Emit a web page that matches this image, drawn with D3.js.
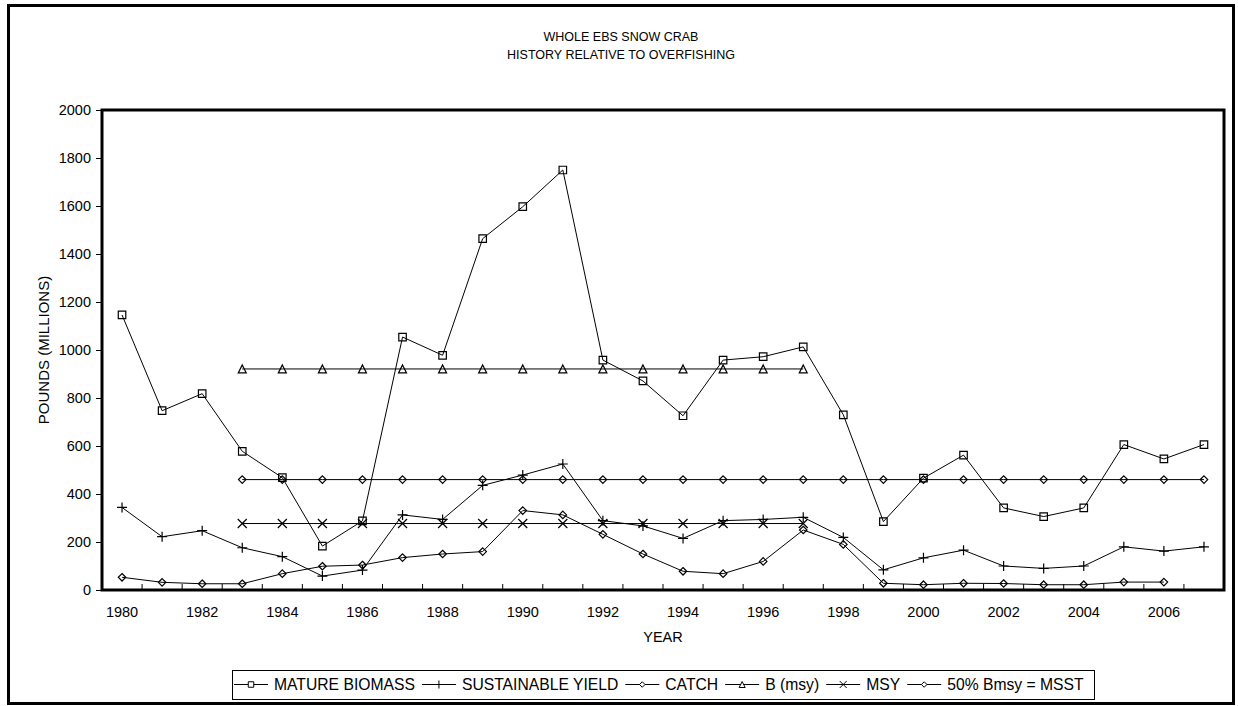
<!DOCTYPE html>
<html>
<head>
<meta charset="utf-8">
<script src="https://cdn.jsdelivr.net/npm/d3@7"></script>
<style>
  html, body { margin: 0; padding: 0; background: #fff; }
  svg { display: block; font-family: "Liberation Sans", Arial, sans-serif; }
</style>
</head>
<body>
<svg id="chart" width="1238" height="706"></svg>
<script>
// ---------------- DATA ----------------
const titleLines = ["WHOLE EBS SNOW CRAB", "HISTORY RELATIVE TO OVERFISHING"];
const yAxisTitle = "POUNDS (MILLIONS)";
const xAxisTitle = "YEAR";

const years = [1980, 1981, 1982, 1983, 1984, 1985, 1986, 1987, 1988, 1989,
               1990, 1991, 1992, 1993, 1994, 1995, 1996, 1997, 1998, 1999,
               2000, 2001, 2002, 2003, 2004, 2005, 2006, 2007];
const xTickLabels = [1980, 1982, 1984, 1986, 1988, 1990, 1992, 1994, 1996, 1998,
                     2000, 2002, 2004, 2006];
const yTicks = [0, 200, 400, 600, 800, 1000, 1200, 1400, 1600, 1800, 2000];

const matureBiomass = [1146, 747, 818, 578, 468, 183, 288, 1054, 978, 1464,
                       1597, 1750, 958, 871, 726, 958, 972, 1013, 730, 285,
                       466, 562, 342, 306, 342, 606, 546, 606];
const sustainableYield = [344, 222, 247, 176, 139, 58, 83, 313, 294, 436,
                          479, 525, 289, 267, 215, 289, 294, 303, 219, 84,
                          134, 166, 100, 90, 100, 180, 162, 180];
const catchLbs = [53, 32, 26, 26, 68, 99, 104, 135, 150, 160,
                  331, 313, 232, 150, 78, 68, 119, 250, 190, 28,
                  22, 28, 27, 22, 22, 33, 33, null];
const bMsy = [null, null, null, 921, 921, 921, 921, 921, 921, 921,
              921, 921, 921, 921, 921, 921, 921, 921, null, null,
              null, null, null, null, null, null, null, null];
const msy = [null, null, null, 277, 277, 277, 277, 277, 277, 277,
             277, 277, 277, 277, 277, 277, 277, 277, null, null,
             null, null, null, null, null, null, null, null];
const msst = [null, null, null, 460, 460, 460, 460, 460, 460, 460,
              460, 460, 460, 460, 460, 460, 460, 460, 460, 460,
              460, 460, 460, 460, 460, 460, 460, 460];

const seriesNames = ["MATURE BIOMASS", "SUSTAINABLE YIELD", "CATCH", "B (msy)", "MSY", "50% Bmsy = MSST"];
const seriesMarkers = ["square", "plus", "diamond", "triangle", "cross", "diamond"];
const seriesValues = [matureBiomass, sustainableYield, catchLbs, bMsy, msy, msst];

// ---------------- LAYOUT ----------------
const svg = d3.select("#chart");
const plot = { left: 102, right: 1224, top: 110, bottom: 590 };

const x = d3.scaleBand().domain(years).range([plot.left, plot.right]);
const y = d3.scaleLinear().domain([0, 2000]).range([plot.bottom, plot.top]);

// marker path generator (centered at 0,0)
function markerPath(type, s) {
  const h = s / 2;
  switch (type) {
    case "square": return `M${-h},${-h}H${h}V${h}H${-h}Z`;
    case "diamond": return `M0,${-h}L${h},0L0,${h}L${-h},0Z`;
    case "triangle": return `M0,${-h}L${h},${h}L${-h},${h}Z`;
    case "plus": return `M${-h},0H${h}M0,${-h}V${h}`;
    case "cross": return `M${-h},${-h}L${h},${h}M${h},${-h}L${-h},${h}`;
  }
}
const markerSize = { square: 7.5, diamond: 7.5, triangle: 8, plus: 10, cross: 9 };

// outer frame
svg.append("rect")
  .attr("x", 8.5).attr("y", 5.5)
  .attr("width", 1225).attr("height", 698)
  .attr("fill", "#fff").attr("stroke", "#000").attr("stroke-width", 3);

// title
svg.append("g").selectAll("text").data(titleLines).join("text")
  .attr("x", 621).attr("y", (d, i) => 40.5 + i * 18.5)
  .attr("text-anchor", "middle")
  .attr("font-size", "12.5px")
  .text(d => d);

// y axis
const yAxis = svg.append("g")
  .attr("transform", `translate(${plot.left},0)`)
  .call(d3.axisLeft(y).tickValues(yTicks).tickSize(6).tickPadding(5).tickFormat(d3.format("d")));
yAxis.select(".domain").remove();
yAxis.selectAll("text").attr("font-size", "14.5px").attr("font-family", "Liberation Sans, Arial, sans-serif").attr("fill", "#000");
yAxis.selectAll("line").attr("stroke", "#000");

// x axis labels (centered in bands)
const xAxis = svg.append("g")
  .attr("transform", `translate(0,${plot.bottom})`)
  .call(d3.axisBottom(x).tickValues(xTickLabels).tickSize(0).tickPadding(17));
xAxis.select(".domain").remove();
xAxis.selectAll("text").attr("font-size", "14.5px").attr("font-family", "Liberation Sans, Arial, sans-serif").attr("fill", "#000");

// x tick marks at band boundaries (inside)
const boundaries = years.map(d => x(d)).concat([x(years[years.length - 1]) + x.bandwidth()]);
svg.append("g").selectAll("line").data(boundaries).join("line")
  .attr("x1", d => d).attr("x2", d => d)
  .attr("y1", plot.bottom).attr("y2", plot.bottom - 6)
  .attr("stroke", "#000").attr("stroke-width", 1);

// axis titles
svg.append("text")
  .attr("transform", `translate(43,${(plot.top + plot.bottom) / 2}) rotate(-90)`)
  .attr("text-anchor", "middle").attr("dominant-baseline", "central")
  .attr("font-size", "15px")
  .text(yAxisTitle);
svg.append("text")
  .attr("x", (plot.left + plot.right) / 2).attr("y", 642)
  .attr("text-anchor", "middle")
  .attr("font-size", "14.5px")
  .text(xAxisTitle);

// series
const cx = d => x(d) + x.bandwidth() / 2;
const seriesG = svg.append("g");
seriesValues.forEach((vals, si) => {
  const pts = years.map((yr, i) => ({ yr, v: vals[i] }));
  const line = d3.line().defined(p => p.v != null).x(p => cx(p.yr)).y(p => y(p.v));
  seriesG.append("path")
    .attr("d", line(pts))
    .attr("fill", "none").attr("stroke", "#000").attr("stroke-width", 1);
  const mk = seriesMarkers[si];
  seriesG.append("g").selectAll("path").data(pts.filter(p => p.v != null)).join("path")
    .attr("transform", p => `translate(${cx(p.yr)},${y(p.v)})`)
    .attr("d", markerPath(mk, markerSize[mk]))
    .attr("fill", "none").attr("stroke", "#000").attr("stroke-width", 1.2);
});

// plot area border
svg.append("rect")
  .attr("x", plot.left).attr("y", plot.top)
  .attr("width", plot.right - plot.left).attr("height", plot.bottom - plot.top)
  .attr("fill", "none").attr("stroke", "#000").attr("stroke-width", 3);

// legend
const legendBox = { left: 232, right: 1094, top: 670, bottom: 699 };
svg.append("rect")
  .attr("x", legendBox.left + 0.5).attr("y", legendBox.top + 0.5)
  .attr("width", legendBox.right - legendBox.left).attr("height", legendBox.bottom - legendBox.top)
  .attr("fill", "#fff").attr("stroke", "#000").attr("stroke-width", 1);

const lg = svg.append("g");
const ly = (legendBox.top + legendBox.bottom) / 2;
let lx = legendBox.left + 2;
seriesNames.forEach((name, i) => {
  const g = lg.append("g");
  g.append("line").attr("x1", lx).attr("x2", lx + 34).attr("y1", ly).attr("y2", ly)
    .attr("stroke", "#000").attr("stroke-width", 1);
  const mk = seriesMarkers[i];
  g.append("path").attr("transform", `translate(${lx + 17},${ly})`)
    .attr("d", markerPath(mk, Math.max(5, markerSize[mk] - 2)))
    .attr("fill", "#fff").attr("stroke", "#000").attr("stroke-width", 1);
  const t = g.append("text").attr("x", lx + 40).attr("y", ly).attr("dy", "0.36em")
    .attr("font-size", "15.7px").text(name);
  const w = t.node().getComputedTextLength();
  lx = lx + 40 + w + 7;
});
</script>
</body>
</html>
